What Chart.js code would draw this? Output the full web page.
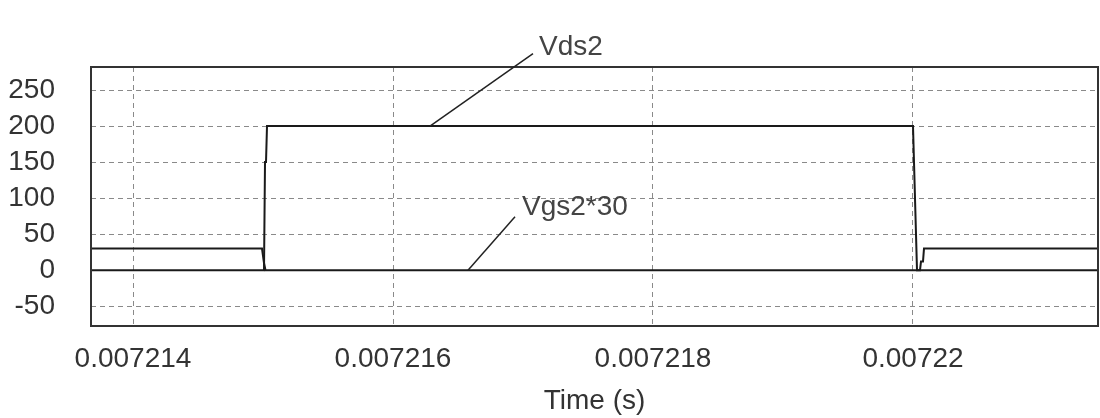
<!DOCTYPE html>
<html>
<head>
<meta charset="utf-8">
<script src="https://cdn.jsdelivr.net/npm/chart.js@4.4.0/dist/chart.umd.min.js"></script>
<style>
  body { margin: 0; background: #fff; }
  #grafica { display: block; }
</style>
</head>
<body>
<canvas id="grafica" width="1100" height="418"></canvas>
<script>
  // datos de las dos curvas (tiempo en s)
  const tiempoVds = [0.0072136769, 0.0072150077, 0.0072150154, 0.0072150231, 0.0072150308, 0.0072200000, 0.0072200077, 0.0072200231, 0.0072200308, 0.0072214231]
  const valoresVds = [0, 0, 150, 150, 200, 200, 150, 50, 0, 0]

  const tiempoVgs = [0.0072136769, 0.0072149923, 0.0072150077, 0.0072150192, 0.0072200538, 0.0072200615, 0.0072200769, 0.0072200846, 0.0072214231]
  const valoresVgs = [30, 30, 10, 0, 0, 12, 12, 30, 30]

  // ejes
  const xMin = 0.0072136769
  const xMax = 0.0072214231
  const xTicks = [0.007214, 0.007216, 0.007218, 0.00722]
  const xTickLabels = ['0.007214', '0.007216', '0.007218', '0.00722']
  const yMin = -77.5
  const yMax = 282
  const yTicks = [-50, 0, 50, 100, 150, 200, 250]

  // etiquetas con linea guia (coordenadas de datos)
  const etiquetas = ['Vds2', 'Vgs2*30']
  const etiquetaPos = [[0.0072171231, 299.3], [0.0072169923, 77.1]]
  const guiaDesde = [[0.0072170769, 300.7], [0.0072169385, 74.3]]
  const guiaHasta = [[0.0072162846, 200], [0.0072165769, 0]]

  const aPuntos = (ts, vs) => ts.map((t, i) => ({ x: t, y: vs[i] }))

  Chart.defaults.font.family = "'Liberation Sans', Arial, sans-serif"
  Chart.defaults.font.size = 28
  Chart.defaults.color = '#333'

  const marcoYEtiquetas = {
    id: 'marcoYEtiquetas',
    afterDraw(chart) {
      const ctx = chart.ctx
      const a = chart.chartArea
      const sx = chart.scales.x
      const sy = chart.scales.y
      ctx.save()
      ctx.strokeStyle = '#333'
      ctx.lineWidth = 2
      ctx.strokeRect(a.left, a.top, a.right - a.left, a.bottom - a.top)

      ctx.strokeStyle = '#222'
      ctx.lineWidth = 1.5
      ctx.font = "28px 'Liberation Sans', Arial, sans-serif"
      ctx.fillStyle = '#444'
      ctx.textBaseline = 'alphabetic'
      ctx.textAlign = 'left'
      etiquetas.forEach((txt, i) => {
        ctx.beginPath()
        ctx.moveTo(sx.getPixelForValue(guiaDesde[i][0]), sy.getPixelForValue(guiaDesde[i][1]))
        ctx.lineTo(sx.getPixelForValue(guiaHasta[i][0]), sy.getPixelForValue(guiaHasta[i][1]))
        ctx.stroke()
        ctx.fillText(txt, sx.getPixelForValue(etiquetaPos[i][0]), sy.getPixelForValue(etiquetaPos[i][1]))
      })
      ctx.restore()
    }
  }

  new Chart(document.querySelector('#grafica'), {
    type: 'line',
    data: {
      datasets: [
        {
          label: 'Vds2',
          data: aPuntos(tiempoVds, valoresVds),
          borderColor: '#1a1a1a',
          borderWidth: 2,
          pointRadius: 0,
          tension: 0
        },
        {
          label: 'Vgs2*30',
          data: aPuntos(tiempoVgs, valoresVgs),
          borderColor: '#1a1a1a',
          borderWidth: 2,
          pointRadius: 0,
          tension: 0
        }
      ]
    },
    options: {
      responsive: false,
      animation: false,
      layout: { padding: { top: 67, right: 2, left: 0, bottom: 0 } },
      plugins: { legend: { display: false }, tooltip: { enabled: false } },
      scales: {
        x: {
          type: 'linear',
          min: xMin,
          max: xMax,
          afterBuildTicks: (s) => { s.ticks = xTicks.map(v => ({ value: v })) },
          afterFit: (s) => { s.height = 92 },
          ticks: {
            padding: 16,
            maxRotation: 0,
            autoSkip: false,
            callback: (v, i) => xTickLabels[i]
          },
          grid: { color: '#8a8a8a', lineWidth: 1, drawTicks: false },
          border: { display: false, dash: [5, 4] },
          title: { display: true, text: 'Time (s)', padding: { top: 6, bottom: 0 } }
        },
        y: {
          min: yMin,
          max: yMax,
          afterBuildTicks: (s) => { s.ticks = yTicks.map(v => ({ value: v })) },
          afterFit: (s) => { s.width = 91 },
          ticks: { padding: 36 },
          grid: { color: '#8a8a8a', lineWidth: 1, drawTicks: false },
          border: { display: false, dash: [5, 4] }
        }
      }
    },
    plugins: [marcoYEtiquetas]
  });
</script>
</body>
</html>
